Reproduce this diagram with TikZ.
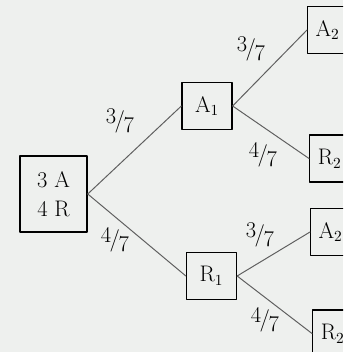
\documentclass[tikz,border=0pt]{standalone}
\usepackage{fontspec}
\usepackage{xcolor}
\definecolor{paper}{RGB}{238,240,238}
\definecolor{branch}{RGB}{95,95,95}
\newcommand{\frsep}[2]{\raisebox{0.45ex}{#1}\kern-0.08em/\kern-0.05em\raisebox{-0.45ex}{#2}}
\tikzset{
  box/.style={draw, line width=0.9pt, inner sep=0pt, minimum width=1.25cm, minimum height=1.18cm, font=\fontsize{16}{19}\selectfont},
  rootbox/.style={box, minimum width=1.68cm, minimum height=1.9cm, align=center},
  leafbox/.style={box, minimum width=1cm, anchor=west},
  branchline/.style={line width=0.7pt, color=branch},
  prob/.style={font=\fontsize{16}{19}\selectfont, inner sep=0pt}
}

\begin{document}
\begin{tikzpicture}[line cap=round,line join=round,x=0.025cm,y=-0.025cm]
					\useasboundingbox (0,0) rectangle (343,352);
					\fill[paper] (0,0) rectangle (343,352);
					\clip (0,0) rectangle (343,352);
					% boxes
					\node[rootbox] (root) at (53.5,194) {3 A\\[2pt]4 R};
					\node[box] (a1) at (207,106) {A$_1$};
					\node[box] (r1) at (211.5,276) {R$_1$};
					\node[leafbox] (a2up) at (307,30) {A$_2$};
					\node[leafbox] (r2up) at (309,158.5) {R$_2$};
					\node[leafbox] (a2lo) at (310,232) {A$_2$};
					\node[leafbox] (r2lo) at (312,333.5) {R$_2$};
					% branches
					\draw[branchline] (root.east) -- (a1.west);
					\draw[branchline] (root.east) -- (r1.west);
					\draw[branchline] (a1.east) -- (a2up.west);
					\draw[branchline] (a1.east) -- (r2up.west);
					\draw[branchline] (r1.east) -- (a2lo.west);
					\draw[branchline] (r1.east) -- (r2lo.west);
					% probabilities
					\node[prob] (pa1) at (120,121) {\frsep{3}{7}};
					\node[prob] (pr1) at (115,240) {\frsep{4}{7}};
					\node[prob] (pa2up) at (251,49) {\frsep{3}{7}};
					\node[prob] (pr2up) at (263,155) {\frsep{4}{7}};
					\node[prob] (pa2lo) at (260,235) {\frsep{3}{7}};
					\node[prob] (pr2lo) at (265,320) {\frsep{4}{7}};
				\end{tikzpicture}
\end{document}
